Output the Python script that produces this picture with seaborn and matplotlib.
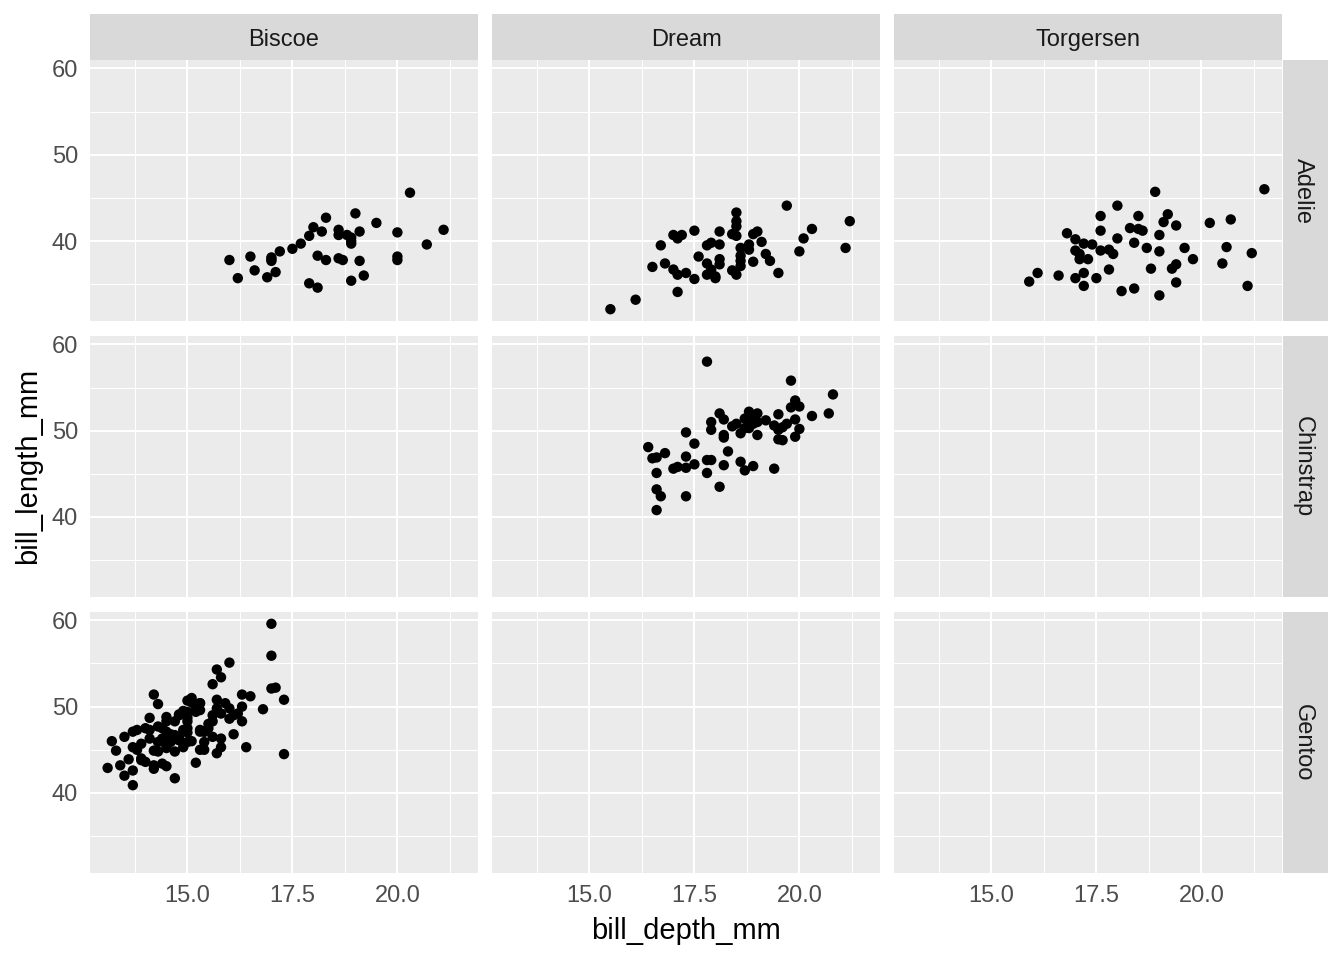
import numpy as np
import pandas as pd
import matplotlib
matplotlib.use("Agg")
import matplotlib.pyplot as plt
import seaborn as sns
from matplotlib.patches import Rectangle

# === Data ===
island_order = ["Biscoe", "Dream", "Torgersen"]
species_order = ["Adelie", "Chinstrap", "Gentoo"]

adelie_biscoe_depth = [20.3, 18.3, 19.0, 19.5, 18.0, 18.2, 17.9, 18.6, 18.6, 19.1,
                       18.8, 18.9, 18.9, 20.0, 21.1, 20.7, 17.7, 17.5, 17.2, 17.0,
                       17.0, 16.5, 16.0, 16.2, 16.6, 16.9, 17.1, 18.1, 18.3, 18.6,
                       18.7, 19.1, 20.0, 20.0, 17.9, 18.1, 18.9, 19.2, 18.9, 17.0]
adelie_biscoe_length = [45.6, 42.7, 43.2, 42.1, 41.6, 41.1, 40.6, 41.3, 40.7, 41.1,
                        40.7, 40.4, 39.7, 41.0, 41.3, 39.6, 39.7, 39.1, 38.8, 38.1,
                        37.7, 38.2, 37.8, 35.7, 36.6, 35.8, 36.4, 38.3, 37.8, 38.0,
                        37.8, 37.7, 38.2, 37.8, 35.1, 34.6, 35.4, 36.0, 40.0, 37.9]

adelie_dream_depth = [19.7, 18.5, 18.5, 18.5, 18.4, 18.5, 21.2, 20.3, 20.1, 20.0,
                      21.1, 17.5, 18.1, 17.0, 17.2, 17.1, 16.7, 17.8, 17.9, 18.1,
                      19.0, 18.9, 19.1, 18.6, 18.8, 18.8, 18.6, 18.6, 17.6, 18.1,
                      18.1, 17.8, 19.2, 19.3, 18.9, 19.5, 16.5, 16.8, 17.0, 17.1,
                      17.3, 17.5, 17.8, 18.0, 18.0, 18.4, 18.5, 18.6, 17.1, 16.1,
                      15.5, 17.9]
adelie_dream_length = [44.1, 43.3, 42.3, 41.7, 40.8, 40.6, 42.3, 41.4, 40.3, 38.8,
                       39.2, 41.2, 41.1, 40.7, 40.7, 40.3, 39.5, 39.5, 39.8, 39.6,
                       41.1, 40.8, 39.9, 39.2, 39.6, 39.0, 38.3, 37.7, 38.2, 37.9,
                       37.3, 37.4, 38.5, 37.7, 37.6, 36.3, 37.0, 37.4, 36.7, 36.1,
                       36.3, 35.6, 36.1, 35.9, 35.7, 36.6, 36.1, 37.1, 34.1, 33.2,
                       32.1, 36.7]

adelie_torgersen_depth = [18.9, 21.5, 18.0, 17.6, 18.5, 19.2, 19.1, 19.4, 20.2, 20.7,
                          16.8, 17.0, 17.2, 17.6, 18.3, 18.5, 18.6, 19.0, 18.0, 17.4,
                          17.0, 17.1, 17.1, 17.3, 17.6, 17.8, 17.9, 18.4, 18.7, 19.0,
                          19.6, 19.8, 20.6, 21.2, 20.5, 17.8, 18.8, 19.3, 19.4, 16.1,
                          15.9, 16.6, 17.0, 17.2, 17.5, 17.2, 18.1, 18.4, 19.4, 21.1,
                          19.0]
adelie_torgersen_length = [45.7, 46.0, 44.1, 42.9, 42.9, 43.1, 42.2, 41.8, 42.1, 42.5,
                           40.9, 40.2, 39.7, 41.2, 41.5, 41.4, 41.2, 40.7, 40.3, 39.6,
                           38.9, 38.5, 37.9, 37.9, 38.9, 39.0, 38.5, 39.8, 39.2, 38.8,
                           39.2, 37.9, 39.3, 38.6, 37.4, 36.7, 36.8, 36.8, 37.3, 36.3,
                           35.3, 36.0, 35.7, 36.3, 35.7, 34.8, 34.2, 34.5, 35.2, 34.8,
                           33.7]

chinstrap_dream_depth = [17.8, 19.8, 20.8, 19.9, 19.8, 20.0, 19.5, 20.3, 20.7, 19.9,
                         20.0, 19.9, 19.7, 19.4, 19.5, 19.5, 19.6, 18.1, 18.2, 17.9,
                         17.9, 18.2, 18.2, 18.4, 18.5, 18.6, 18.7, 18.8, 19.0, 18.8,
                         18.9, 19.0, 19.2, 18.7, 18.8, 19.0, 17.3, 17.5, 16.4, 16.5,
                         16.6, 16.8, 17.3, 18.3, 17.0, 17.1, 17.3, 17.5, 17.8, 17.9,
                         17.8, 18.2, 18.6, 18.7, 18.9, 19.4, 16.6, 16.6, 16.7, 17.3,
                         18.1, 16.6, 18.9, 19.6]
chinstrap_dream_length = [58.0, 55.8, 54.2, 53.5, 52.7, 52.8, 51.9, 51.7, 52.0, 51.3,
                          50.2, 49.3, 50.8, 50.6, 50.1, 49.0, 48.9, 52.0, 51.3, 51.0,
                          50.1, 49.5, 49.2, 50.5, 50.8, 49.7, 51.4, 52.2, 52.0, 51.0,
                          51.4, 51.0, 51.2, 50.3, 50.3, 49.5, 49.8, 48.5, 48.1, 46.8,
                          46.9, 47.4, 47.0, 47.6, 45.6, 45.8, 45.7, 46.1, 46.6, 46.6,
                          45.1, 46.0, 46.4, 45.4, 45.9, 45.6, 45.1, 43.2, 42.4, 42.4,
                          43.5, 40.8, 50.8, 50.4]

gentoo_biscoe_depth = [14.2, 14.3, 14.1, 14.8, 15.0, 15.1, 15.2, 15.3, 15.0, 15.0,
                       15.0, 15.3, 15.3, 15.4, 14.5, 14.5, 14.3, 14.1, 14.0, 13.8,
                       13.7, 13.5, 13.2, 13.3, 13.7, 13.8, 13.9, 14.1, 14.3, 14.4,
                       14.5, 14.6, 14.7, 14.8, 15.0, 14.3, 14.5, 14.7, 14.9, 13.6,
                       13.4, 13.1, 13.7, 13.5, 13.7, 13.9, 14.0, 14.2, 14.2, 14.4,
                       14.5, 14.7, 15.2, 14.8, 14.7, 14.9, 15.4, 13.9, 15.2,
                       17.0, 17.0, 16.0, 15.7, 15.8, 15.6, 17.0, 17.1, 17.3, 16.8,
                       16.3, 16.5, 15.7, 15.9, 15.3, 15.3, 15.7, 15.8, 16.0, 16.1,
                       16.3, 16.2, 16.0, 16.3, 15.6, 15.6, 15.5, 15.3, 15.4, 15.6,
                       15.8, 16.1, 15.8, 15.7, 15.4, 16.4, 17.3,
                       15.1, 15.2, 14.9, 15.0, 14.6, 14.4, 14.8, 15.1, 14.2, 14.5,
                       15.5, 15.0]
gentoo_biscoe_length = [51.4, 50.3, 48.7, 49.1, 50.7, 50.5, 50.2, 50.4, 49.4, 48.3,
                        47.5, 47.3, 45.0, 45.9, 48.8, 48.3, 47.7, 47.3, 47.5, 47.3,
                        47.1, 46.5, 46.0, 44.9, 45.3, 45.0, 45.7, 46.3, 45.9, 46.3,
                        47.1, 45.9, 46.7, 46.1, 45.9, 44.8, 45.2, 44.8, 45.3, 43.9,
                        43.2, 42.9, 42.6, 42.0, 40.9, 43.8, 43.6, 43.2, 42.8, 43.4,
                        43.1, 41.7, 43.5, 49.0, 48.3, 47.3, 47.1, 44.0, 49.4,
                        59.6, 55.9, 55.1, 54.3, 53.4, 52.6, 52.1, 52.2, 50.8, 49.7,
                        51.4, 51.2, 50.8, 50.4, 50.4, 49.6, 49.8, 49.2, 49.8, 49.0,
                        50.0, 49.2, 48.6, 48.3, 49.0, 48.3, 47.5, 47.1, 47.1, 46.5,
                        46.3, 46.8, 45.3, 44.6, 45.0, 45.3, 44.5,
                        51.0, 49.8, 49.5, 47.0, 46.8, 47.5, 46.5, 46.0, 44.9, 45.5,
                        48.0, 48.7]

groups = [
    ("Adelie", "Biscoe", adelie_biscoe_depth, adelie_biscoe_length),
    ("Adelie", "Dream", adelie_dream_depth, adelie_dream_length),
    ("Adelie", "Torgersen", adelie_torgersen_depth, adelie_torgersen_length),
    ("Chinstrap", "Dream", chinstrap_dream_depth, chinstrap_dream_length),
    ("Gentoo", "Biscoe", gentoo_biscoe_depth, gentoo_biscoe_length),
]
df = pd.concat([
    pd.DataFrame({"species": sp, "island": isl, "bill_depth_mm": d, "bill_length_mm": l})
    for sp, isl, d, l in groups
], ignore_index=True)

# === Style (ggplot-like grey theme) ===
sns.set_theme(style="darkgrid")
plt.rcParams["font.family"] = ["Liberation Sans", "DejaVu Sans"]

g = sns.relplot(data=df, x="bill_depth_mm", y="bill_length_mm",
                row="species", col="island",
                row_order=species_order, col_order=island_order,
                color="black", s=56, linewidth=0, edgecolor="none",
                height=3, aspect=1.4, facet_kws=dict(despine=False))
fig = g.figure
fig.set_size_inches(13.44, 9.6)
fig.subplots_adjust(left=90/1344, right=1282/1344, top=1-60/960, bottom=1-873/960,
                    wspace=0.036, hspace=0.057)
g.set_titles("")
g.set_axis_labels("", "")

for (i, j), ax in np.ndenumerate(g.axes):
    ax.set_facecolor("#EBEBEB")
    for sp in ax.spines.values():
        sp.set_visible(False)
    ax.set_xlim(12.68, 21.92)
    ax.set_ylim(30.725, 60.975)
    ax.set_xticks([15, 17.5, 20])
    ax.set_xticks([13.75, 16.25, 18.75, 21.25], minor=True)
    ax.set_yticks([40, 50, 60])
    ax.set_yticks([35, 45, 55], minor=True)
    ax.xaxis.set_major_formatter(matplotlib.ticker.FormatStrFormatter("%.1f"))
    ax.grid(which="major", color="white", linewidth=1.5)
    ax.grid(which="minor", color="white", linewidth=0.75)
    ax.set_axisbelow(True)
    ax.tick_params(which="minor", length=0)
    ax.tick_params(axis="x", which="major", length=4 if i == 2 else 0, width=0.8,
                   color="#333333", labelcolor="#4D4D4D", labelsize=17, pad=5,
                   labelbottom=(i == 2))
    ax.tick_params(axis="y", which="major", length=4 if j == 0 else 0, width=0.8,
                   color="#333333", labelcolor="#4D4D4D", labelsize=17, pad=4.5,
                   labelleft=(j == 0))
    if i == 0:
        ax.add_patch(Rectangle((0, 1), 1, 46/262, transform=ax.transAxes,
                               clip_on=False, color="#D9D9D9", linewidth=0))
        ax.text(0.5, 1 + 20/262, island_order[j], transform=ax.transAxes,
                ha="center", va="center", fontsize=17, color="#1A1A1A")
    if j == 2:
        ax.add_patch(Rectangle((1 + 1/388, 0), 45/388, 1, transform=ax.transAxes,
                               clip_on=False, color="#D9D9D9", linewidth=0))
        ax.text(1 + 21/388, 0.5, species_order[i], transform=ax.transAxes,
                ha="center", va="center", rotation=-90, fontsize=17, color="#1A1A1A")

fig.text(686/1344, 1-931/960, "bill_depth_mm", ha="center", va="center",
         fontsize=21, color="black")
fig.text(28/1344, 1-466/960, "bill_length_mm", ha="center", va="center",
         rotation=90, fontsize=21, color="black")

fig.savefig("out.png", dpi=100, facecolor="white")
